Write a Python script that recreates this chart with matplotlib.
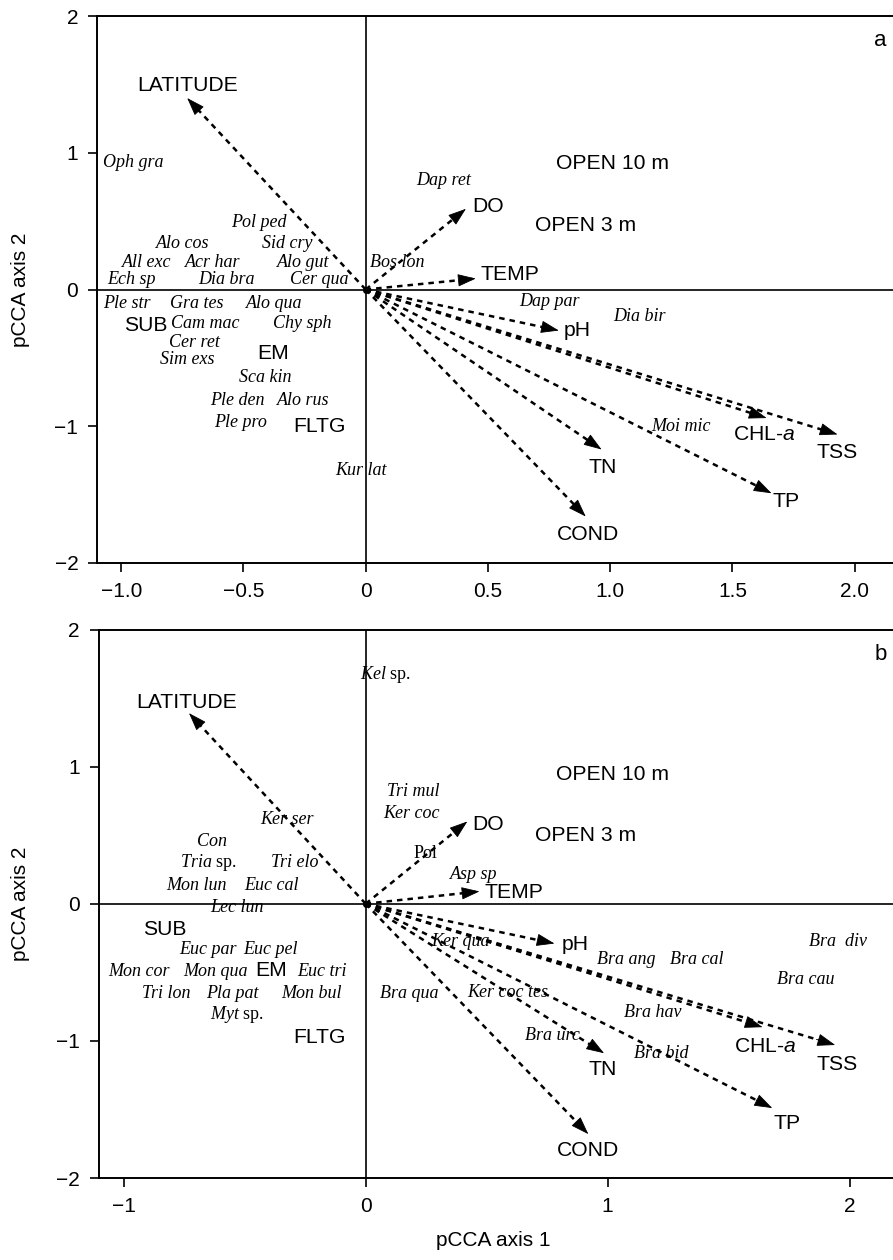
import matplotlib
matplotlib.use("Agg")
import matplotlib.pyplot as plt

plt.rcParams['font.family'] = ['Liberation Sans', 'DejaVu Sans']
plt.rcParams['mathtext.fontset'] = 'custom'
plt.rcParams['mathtext.it'] = 'Liberation Serif:italic'
plt.rcParams['mathtext.rm'] = 'Liberation Serif'
plt.rcParams['mathtext.sf'] = 'Liberation Sans:italic'

# environmental vectors (arrow tips)
env_names = ['LATITUDE', 'DO', 'TEMP', 'pH', r'CHL-$\mathsf{a}$', 'TSS', 'TN', 'TP', 'COND']
env_a_x = [-0.73, 0.41, 0.45, 0.79, 1.64, 1.93, 0.965, 1.66, 0.90]
env_a_y = [1.40, 0.59, 0.08, -0.30, -0.94, -1.06, -1.17, -1.49, -1.66]
env_b_x = [-0.73, 0.42, 0.47, 0.78, 1.64, 1.94, 0.985, 1.68, 0.92]
env_b_y = [1.39, 0.60, 0.09, -0.29, -0.90, -1.03, -1.09, -1.49, -1.68]

# label positions of the vectors
envlab_a_x = [-0.73, 0.50, 0.47, 0.81, 1.63, 1.93, 0.97, 1.72, 0.91]
envlab_a_y = [1.49, 0.61, 0.11, -0.30, -1.06, -1.19, -1.30, -1.55, -1.79]
envlab_b_x = [-0.74, 0.505, 0.49, 0.81, 1.65, 1.95, 0.98, 1.74, 0.92]
envlab_b_y = [1.47, 0.58, 0.08, -0.30, -1.04, -1.17, -1.21, -1.60, -1.80]
env_ha = ['center', 'center', 'left', 'left', 'center', 'center', 'center', 'center', 'center']

# habitat (site group) centroids
site_names = ['SUB', 'EM', 'FLTG', 'OPEN 3 m', 'OPEN 10 m']
site_a_x = [-0.90, -0.38, -0.19, 0.90, 1.01]
site_a_y = [-0.26, -0.47, -1.00, 0.47, 0.92]
site_b_x = [-0.83, -0.39, -0.19, 0.91, 1.02]
site_b_y = [-0.19, -0.49, -0.975, 0.50, 0.94]

# species scores, panel a
spec_a = ['Oph gra', 'Dap ret', 'Pol ped', 'Alo cos', 'Sid cry', 'All exc', 'Acr har',
          'Alo gut', 'Bos lon', 'Ech sp', 'Dia bra', 'Cer qua', 'Ple str', 'Gra tes',
          'Alo qua', 'Cam mac', 'Chy sph', 'Cer ret', 'Sim exs', 'Sca kin', 'Ple den',
          'Alo rus', 'Ple pro', 'Kur lat', 'Dap par', 'Dia bir', 'Moi mic']
spec_a_x = [-0.95, 0.32, -0.435, -0.75, -0.32, -0.895, -0.625, -0.255, 0.13, -0.96,
            -0.57, -0.19, -0.975, -0.69, -0.375, -0.655, -0.26, -0.70, -0.73, -0.41,
            -0.525, -0.255, -0.51, -0.02, 0.75, 1.12, 1.29]
spec_a_y = [0.93, 0.80, 0.49, 0.34, 0.34, 0.20, 0.20, 0.20, 0.20, 0.07, 0.07, 0.07,
            -0.10, -0.10, -0.10, -0.25, -0.25, -0.385, -0.51, -0.64, -0.81, -0.81,
            -0.97, -1.325, -0.09, -0.20, -1.00]

# species scores, panel b
spec_b = [r'$\mathit{Kel}$ sp.', 'Tri mul', 'Ker coc', 'Ker ser', 'Con', 'Pol',
          r'$\mathit{Tria}$ sp.', 'Tri elo', 'Mon lun', 'Euc cal', 'Asp sp', 'Lec lun',
          'Euc par', 'Euc pel', 'Mon cor', 'Mon qua', 'Euc tri', 'Tri lon', 'Pla pat',
          'Mon bul', r'$\mathit{Myt}$ sp.', 'Bra qua', 'Ker qua', 'Ker coc tes',
          'Bra ang', 'Bra cal', 'Bra  div', 'Bra cau', 'Bra hav', 'Bra urc', 'Bra bid']
spec_b_x = [0.08, 0.195, 0.19, -0.325, -0.635, 0.245, -0.65, -0.295, -0.70, -0.39,
            0.445, -0.53, -0.65, -0.395, -0.935, -0.62, -0.18, -0.825, -0.55, -0.225,
            -0.53, 0.18, 0.39, 0.585, 1.075, 1.37, 1.95, 1.82, 1.185, 0.77, 1.22]
spec_b_y = [1.67, 0.82, 0.66, 0.615, 0.455, 0.365, 0.30, 0.30, 0.13, 0.13, 0.21, -0.03,
            -0.335, -0.335, -0.495, -0.495, -0.495, -0.655, -0.655, -0.655, -0.81, -0.655,
            -0.275, -0.65, -0.41, -0.41, -0.275, -0.555, -0.79, -0.96, -1.095]
spec_b_italic = [False, True, True, True, True, False, False, True, True, True, True, True,
                 True, True, True, True, True, True, True, True, False, True, True, True,
                 True, True, True, True, True, True, True]

xt_a = [-1.0, -0.5, 0, 0.5, 1.0, 1.5, 2.0]
xtl_a = ['\u22121.0', '\u22120.5', '0', '0.5', '1.0', '1.5', '2.0']
xt_b = [-1, 0, 1, 2]
xtl_b = ['\u22121', '0', '1', '2']
yt = [-2, -1, 0, 1, 2]
ytl = ['\u22122', '\u22121', '0', '1', '2']

W, H = 893, 1260
fig = plt.figure(figsize=(W / 100, H / 100), dpi=100)
ax_a = fig.add_axes([97 / W, 1 - 563 / H, 1 - 97 / W, (563 - 16) / H])
ax_b = fig.add_axes([98.5 / W, 1 - 1178 / H, 1 - 98.5 / W, (1178 - 629.5) / H])


def draw_panel(ax, ex, ey, lx, ly, sx, sy, names, nx, ny, italic, xlim, xt, xtl, tag):
    ax.set_xlim(*xlim)
    ax.set_ylim(-2, 2)
    ax.axhline(0, color='black', lw=1.2, zorder=1)
    ax.axvline(0, color='black', lw=1.2, zorder=1)
    for i in range(len(env_names)):
        # dashed shaft
        ax.plot([0, ex[i] * 0.97], [0, ey[i] * 0.97], color='black', lw=1.8,
                linestyle=(0, (2.2, 2.0)), zorder=3)
        # solid head
        ax.annotate('', xy=(ex[i], ey[i]), xytext=(ex[i] * 0.96, ey[i] * 0.96),
                    arrowprops=dict(arrowstyle='-|>,head_length=1.15,head_width=0.4',
                                    color='black', lw=0.6, shrinkA=0, shrinkB=0,
                                    mutation_scale=10),
                    zorder=3)
        ax.text(lx[i], ly[i], env_names[i], fontsize=15.2, ha=env_ha[i], va='center',
                family='Liberation Sans', zorder=4)
    ax.plot([0], [0], 'o', color='black', ms=4, zorder=5)
    for i in range(len(site_names)):
        ax.text(sx[i], sy[i], site_names[i], fontsize=15.2, ha='center', va='center',
                family='Liberation Sans', zorder=4)
    for i in range(len(names)):
        ax.text(nx[i], ny[i], names[i], fontsize=13, ha='center', va='center',
                family='Liberation Serif', style='italic' if italic[i] else 'normal',
                zorder=4)
    ax.text(0.992, 0.955, tag, transform=ax.transAxes, fontsize=16, ha='right',
            va='center', family='Liberation Sans')
    ax.spines['right'].set_visible(False)
    for s in ['left', 'top', 'bottom']:
        ax.spines[s].set_linewidth(1.4)
    ax.set_xticks(xt)
    ax.set_xticklabels(xtl)
    ax.set_yticks(yt)
    ax.set_yticklabels(ytl)
    ax.tick_params(direction='out', length=6.5, width=1.2, labelsize=15, pad=7)
    ax.set_ylabel('pCCA axis 2', fontsize=15)


draw_panel(ax_a, env_a_x, env_a_y, envlab_a_x, envlab_a_y, site_a_x, site_a_y,
           spec_a, spec_a_x, spec_a_y, [True] * len(spec_a), (-1.099, 2.157),
           xt_a, xtl_a, 'a')
draw_panel(ax_b, env_b_x, env_b_y, envlab_b_x, envlab_b_y, site_b_x, site_b_y,
           spec_b, spec_b_x, spec_b_y, spec_b_italic, (-1.104, 2.179),
           xt_b, xtl_b, 'b')

ax_a.yaxis.set_label_coords(-0.084, 0.5)
ax_b.yaxis.set_label_coords(-0.086, 0.5)
fig.text(493 / W, 1 - 1240 / H, 'pCCA axis 1', fontsize=15, ha='center', va='center')

fig.savefig('out.png', dpi=100)
